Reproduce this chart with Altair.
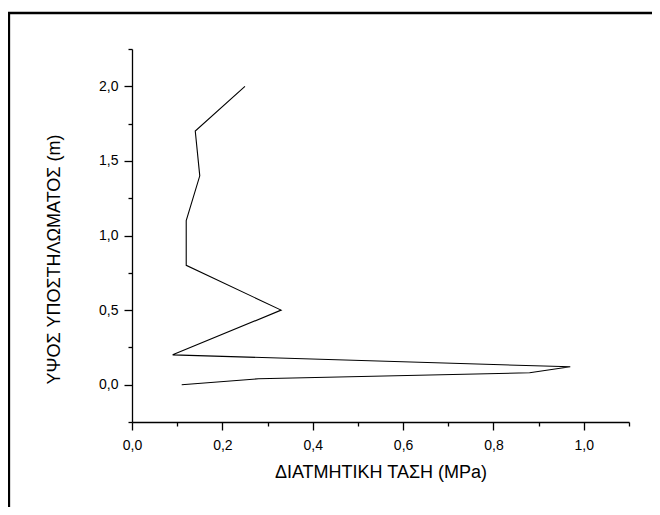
import altair as alt
import pandas as pd

# Data
shear_stress = [0.11, 0.28, 0.88, 0.97, 0.09, 0.33, 0.12, 0.12, 0.15, 0.14, 0.25]
height = [0.00, 0.04, 0.08, 0.12, 0.20, 0.50, 0.80, 1.10, 1.40, 1.70, 2.00]

x_ticks = [0.0, 0.1, 0.2, 0.3, 0.4, 0.5, 0.6, 0.7, 0.8, 0.9, 1.0, 1.1]
y_ticks = [-0.25, 0.0, 0.25, 0.5, 0.75, 1.0, 1.25, 1.5, 1.75, 2.0, 2.25]

x_title = "ΔΙΑΤΜΗΤΙΚΗ ΤΑΣΗ (MPa)"
y_title = "ΥΨΟΣ ΥΠΟΣΤΗΛΩΜΑΤΟΣ (m)"

df = pd.DataFrame({"tau": shear_stress, "h": height})

FONT = "Liberation Sans"
W, H = 497, 373
PAD_L, PAD_T = 124, 41
PAD_R = 644 - PAD_L - W
PAD_B = 499 - PAD_T - H

x_major = "abs(round(datum.value*10)) % 2 == 0"
y_major = "abs(round(datum.value*4)) % 2 == 0"
fmt = "replace(format(datum.value, '.1f'), '.', ',')"

line = alt.Chart(df).mark_line(color="black", strokeWidth=1.1).encode(
    x=alt.X(
        "tau:Q",
        scale=alt.Scale(domain=[0, 1.1], nice=False, zero=False),
        axis=alt.Axis(
            values=x_ticks,
            labelExpr=f"{x_major} ? {fmt} : ''",
            tickSize={"condition": {"test": x_major, "value": 8}, "value": 4},
            title=x_title,
            titleFont=FONT,
            titleFontSize=18,
            titleFontWeight="normal",
            titleColor="black",
            titleBaseline="alphabetic",
            titleX=W / 2,
            titleY=55,
            labelFont=FONT,
            labelFontSize=14,
            labelColor="black",
            labelPadding=8,
            labelFlush=False,
            labelOverlap=False,
            domainColor="black",
            domainWidth=1.3,
            tickColor="black",
            tickWidth=1.3,
            grid=False,
        ),
    ),
    y=alt.Y(
        "h:Q",
        scale=alt.Scale(domain=[-0.25, 2.25], nice=False, zero=False),
        axis=alt.Axis(
            values=y_ticks,
            labelExpr=f"{y_major} ? {fmt} : ''",
            tickSize={"condition": {"test": y_major, "value": 8}, "value": 4},
            title=y_title,
            titleFont=FONT,
            titleFontSize=18,
            titleFontWeight="normal",
            titleColor="black",
            titleAngle=270,
            titleBaseline="alphabetic",
            titleAlign="center",
            titleX=-73,
            titleY=210,
            labelFont=FONT,
            labelFontSize=14,
            labelColor="black",
            labelPadding=6,
            labelFlush=False,
            labelOverlap=False,
            domainColor="black",
            domainWidth=1.3,
            tickColor="black",
            tickWidth=1.3,
            grid=False,
        ),
    ),
    order=alt.Order("h:Q"),
)

frame_data = alt.Data(values=[{"k": 1}])
frame_top = alt.Chart(frame_data).mark_rule(color="black", strokeWidth=2.3).encode(
    x=alt.value(-PAD_L), x2=alt.value(W + PAD_R), y=alt.value(-36)
)
frame_left = alt.Chart(frame_data).mark_rule(color="black", strokeWidth=2.3).encode(
    x=alt.value(-PAD_L + 1), y=alt.value(-37), y2=alt.value(H + PAD_B)
)

chart = (
    alt.layer(line, frame_top, frame_left)
    .properties(
        width=W,
        height=H,
        autosize=alt.AutoSizeParams(type="none"),
        padding={"left": PAD_L, "top": PAD_T, "right": PAD_R, "bottom": PAD_B},
        background="white",
    )
    .configure_view(stroke=None)
)

chart.save("out.html", embed_options={"renderer": "svg", "actions": False})
